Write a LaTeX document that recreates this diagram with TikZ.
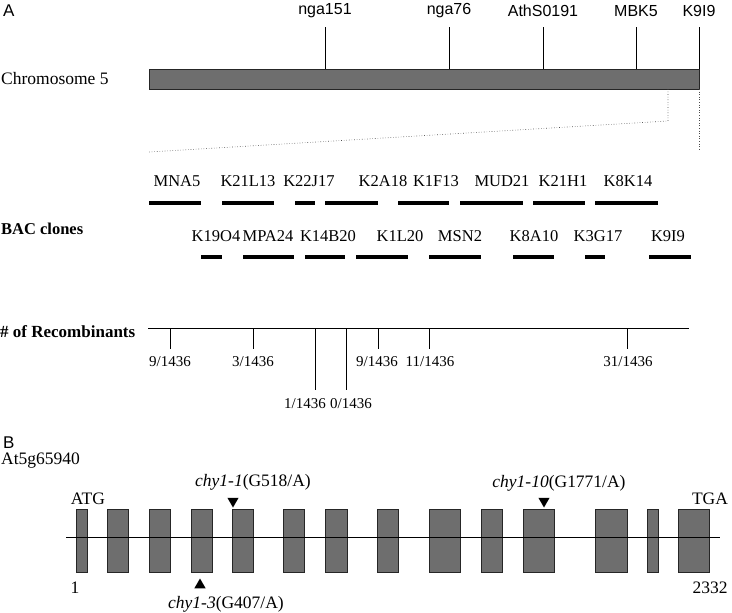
\documentclass[tikz,border=0pt]{standalone}
\usepackage{fontspec}
\setmainfont{Liberation Serif}
\newfontfamily\sfA{Liberation Sans}
\usetikzlibrary{shapes.geometric}
\definecolor{barfill}{HTML}{6E6E6E}
\begin{document}
\begin{tikzpicture}[x=1pt,y=-1pt,
  chrom/.style={draw=black!85, fill=barfill, line width=0.8pt},
  tickln/.style={line width=0.8pt},
  dotln/.style={line width=0.6pt, dotted, black!70},
  bac/.style={line width=4pt},
  mk/.style={font=\sfA\fontsize{16}{16}\selectfont, inner sep=0pt},
  panel/.style={font=\sfA\fontsize{17}{17}\selectfont, inner sep=0pt, anchor=west},
  lab/.style={font=\fontsize{16.5}{16.5}\selectfont, inner sep=0pt},
  rec/.style={font=\fontsize{15}{15}\selectfont, inner sep=0pt},
  glab/.style={font=\fontsize{17.5}{17.5}\selectfont, inner sep=0pt},
  exon/.style={draw=black!85, fill=barfill, line width=0.8pt},
  tri/.style={regular polygon, regular polygon sides=3, fill=black, inner sep=0pt, minimum size=13pt}
]
\useasboundingbox (0,0) rectangle (732,613);

% ---------- Panel A ----------
\node[panel] (A) at (3,11) {A};
\node[lab, anchor=west, font=\fontsize{17.5}{17.5}\selectfont] (chrlab) at (1,79) {Chromosome 5};
\draw[chrom] (149,69) rectangle (699,89);

\foreach \nm/\x/\t in {m1/325/nga151, m2/449/nga76, m3/543/AthS0191, m4/636/MBK5, m5/699/K9I9}{
  \node[mk] (\nm) at (\x,11) {\t};
  \coordinate (\nm t) at (\x,27);
  \coordinate (\nm b) at (\x,69);
  \draw[tickln] (\nm t) -- (\nm b);
}

% zoom dotted lines
\coordinate (z1) at (668,89);
\coordinate (z2) at (668,121);
\coordinate (z3) at (149,152);
\coordinate (z4) at (699,89);
\coordinate (z5) at (699,150);
\draw[dotln] (z1) -- (z2) -- (z3);
\draw[dotln] (z4) -- (z5);

% BAC clones
\node[lab, anchor=west, font=\bfseries\fontsize{16.5}{16.5}\selectfont] (baclab) at (1,229) {BAC clones};

\foreach \nm/\lx/\a/\b in {MNA5/177/149/201, K21L13/248/222/274, K22J17/309/295/315, K2A18/383/325/378,
  K1F13/436/398/449, MUD21/502/460/523, K21H1/563/533/585, K8K14/628/595/658}{
  \node[lab] (\nm) at (\lx,181) {\nm};
  \coordinate (\nm a) at (\a,203);
  \coordinate (\nm b) at (\b,203);
  \draw[bac] (\nm a) -- (\nm b);
}
\foreach \nm/\lx/\a/\b in {K19O4/216/201/222, MPA24/268/243/294, K14B20/328/305/345, K1L20/400/356/408,
  MSN2/460/429/481, K8A10/534/513/554, K3G17/598/585/605, K9I9/668/649/691}{
  \node[lab] (r\nm) at (\lx,236) {\nm};
  \coordinate (r\nm a) at (\a,257);
  \coordinate (r\nm b) at (\b,257);
  \draw[bac] (r\nm a) -- (r\nm b);
}

% Recombinants
\node[lab, anchor=west, font=\bfseries\fontsize{17}{17}\selectfont] (reclab) at (0,332) {\# of Recombinants};
\coordinate (rl) at (148,328);
\coordinate (rr) at (689,328);
\draw[tickln] (rl) -- (rr);
\foreach \nm/\x/\lx/\e/\ly/\t in {t1/170/170/349/362/9, t2/253/253/349/362/3, t3/315/305/390/404/1,
  t4/346/351/390/404/0, t5/378/377/349/362/9, t6/429/430/349/362/11, t7/627/628/349/362/31}{
  \coordinate (\nm a) at (\x,328);
  \coordinate (\nm b) at (\x,\e);
  \draw[tickln] (\nm a) -- (\nm b);
  \node[rec] (\nm l) at (\lx,\ly) {\t/1436};
}

% ---------- Panel B ----------
\node[panel] (B) at (3,443) {B};
\node[glab, anchor=west] (gene) at (1,461) {At5g65940};
\coordinate (gl) at (66,537);
\coordinate (gr) at (720,537);
\foreach \a/\b in {76/87, 107/128, 149/170, 191/212, 232/253, 283/304, 325/347, 377/398, 429/460, 481/502, 523/554, 595/627, 647/658, 678/709}{
  \draw[exon] (\a,509) rectangle (\b,572);
}
\draw[line width=0.8pt] (gl) -- (gr);

\node[glab] (atg) at (88,499) {ATG};
\node[glab] (tga) at (710,499) {TGA};
\node[glab] (one) at (75,588) {1};
\node[glab] (end) at (710,588) {2332};

\node[tri, rotate=180] (tr1) at (233,501) {};
\node[glab] (c1) at (253,482) {\textit{chy1-1}(G518/A)};
\node[tri] (tr3) at (200,585) {};
\node[glab] (c3) at (226,604) {\textit{chy1-3}(G407/A)};
\node[tri, rotate=180] (tr10) at (544,501) {};
\node[glab] (c10) at (559,483) {\textit{chy1-10}(G1771/A)};
\end{tikzpicture}
\end{document}
